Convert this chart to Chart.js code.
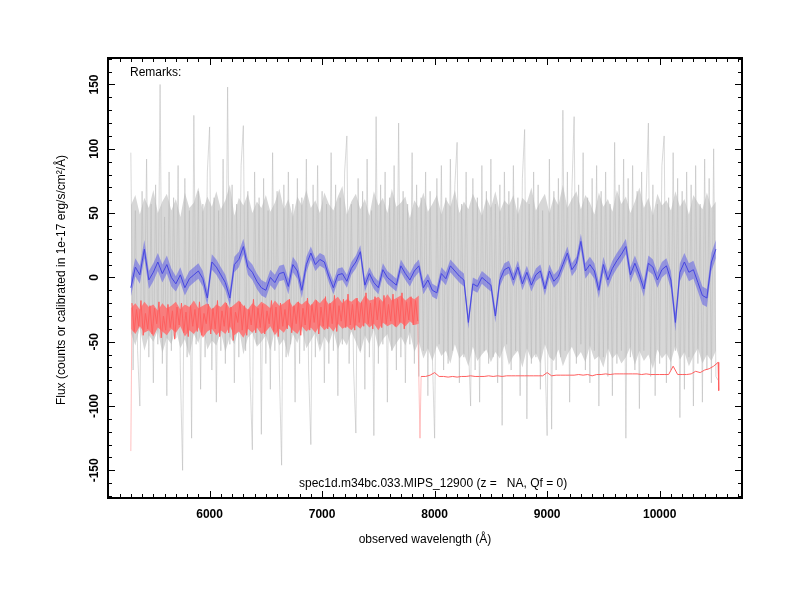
<!DOCTYPE html>
<html lang="en">
<head>
<meta charset="UTF-8">
<title>spec1d.m34bc.033.MIPS_12900</title>
<script src="https://cdn.jsdelivr.net/npm/chart.js"></script>
<style>
  body { margin: 0; background: #fff; }
  #wrap { width: 800px; height: 600px; }
</style>
</head>
<body>
<div id="wrap"><canvas id="specChart" width="800" height="600"></canvas></div>
<script>
// raw spectrum (grey), 5300 A onward, one value every 20 A
const grayStart = 5300, grayStep = 20;
const grayFlux = [
  97, -72, 52, -57, -100, 67, -42, 92, -62, 57,
  -82, 72, -52, 150, -67, 47, -92, 82, -57, 62,
  -47, 87, -72, -150, 77, -62, 52, -125, 126, -52,
  67, -87, 57, -62, 82, 117, -72, 62, -97, 52,
  -57, 92, -67, 148, -52, 72, -82, 57, -62, 87,
  118, -57, 67, -77, -134, 82, -52, 62, -122, 77,
  -67, 52, -87, 97, -57, 67, -72, -146, 72, -62,
  82, -52, 57, -97, 77, -67, 62, -57, 92, -72,
  -130, 72, -62, 87, -52, 67, -82, 57, -67, 97,
  -57, 72, -92, 62, -52, 82, 110, -67, 57, -72,
  -121, 77, -57, 67, -87, 92, -62, 52, -123, 125,
  -67, 72, -52, 82, -97, 62, -57, 87, -72, 120,
  -62, 67, -82, 57, -52, 97, -67, 72, -77, 62,
  -57, 82, -92, 67, -62, -125, 77, -52, 87, -72,
  62, -67, 92, -57, 72, 105, -82, 57, -62, 82,
  -52, -100, 77, -72, 62, -97, 87, -57, 67, -67,
  92, -62, 57, -82, 72, -115, 82, -52, 67, -72,
  87, -57, 62, -92, 77, 115, -110, 57, -67, 82,
  -62, 72, -87, 52, -57, -123, 92, -118, 67, -72,
  77, -62, 130, -57, 82, -97, 67, 125, -67, 72,
  -52, 97, -72, 62, -82, 77, -57, 87, -100, 67,
  -62, 82, -77, 57, -92, 105, -67, 72, -57, 92,
  -125, 77, -62, 87, -72, 67, -102, 82, -57, 62,
  120, -77, 72, -92, 57, -67, 87, 110, -82, 62,
  -72, 97, -57, 77, -109, 67, -87, 82, -62, 72,
  -100, 87, -67, 57, -97, 92, -72, 77, -82, 100,
  -77, -80
];

// dense part of the grey spectrum, one value every 40 A
const coreStart = 5300, coreStep = 40;
const grayTop = [
  56, 64, 49, 62, 54, 68, 50, 59, 65, 52,
  61, 47, 66, 54, 58, 70, 51, 63, 55, 67,
  53, 60, 72, 48, 62, 56, 65, 50, 59, 54,
  64, 51, 58, 69, 53, 61, 47, 63, 56, 68,
  54, 60, 50, 66, 57, 52, 63, 71, 49, 59,
  65, 53, 61, 48, 67, 56, 62, 50, 69, 55,
  58, 63, 46, 60, 54, 66, 51, 57, 64, 49,
  61, 55, 68, 50, 59, 53, 65, 57, 48, 62,
  54, 67, 51, 60, 56, 64, 49, 62, 58, 70,
  52, 59, 65, 50, 63, 56, 72, 54, 61, 67,
  53, 64, 58, 49, 66, 55, 61, 51, 68, 57,
  63, 50, 59, 70, 54, 62, 48, 65, 56, 60,
  52, 67, 55, 61, 49, 64, 58, 53, 66, 54,
  59
];
const grayBottom = [
  -43, -53, -39, -57, -45, -50, -41, -59, -47, -52,
  -40, -55, -48, -61, -44, -51, -38, -56, -49, -53,
  -42, -58, -46, -52, -39, -60, -47, -43, -54, -50,
  -45, -57, -41, -53, -48, -62, -44, -51, -40, -55,
  -49, -43, -58, -46, -52, -41, -56, -47, -53, -42,
  -50, -59, -45, -52, -40, -55, -48, -44, -57, -51,
  -46, -53, -42, -58, -50, -63, -55, -65, -53, -61,
  -57, -67, -52, -63, -59, -69, -54, -65, -60, -56,
  -66, -58, -63, -53, -68, -61, -57, -70, -55, -64,
  -59, -67, -52, -62, -65, -56, -69, -60, -54, -63,
  -58, -66, -53, -64, -61, -70, -55, -63, -59, -67,
  -62, -54, -68, -57, -65, -60, -71, -56, -63, -59,
  -66, -53, -64, -58, -69, -61, -55, -67, -60, -65,
  -57
];

// smoothed spectrum (blue), one value every 40 A
const blueStart = 5300, blueStep = 40;
const blueFlux = [
  -8, 8, 2, 22, -2, 4, 12, 3, 10, 0,
  -5, 2, -8, -1, 2, 5, -1, -16, 12, 8,
  2, -4, -16, 10, 14, 24, 8, 4, -3, -8,
  -10, 0, -4, 3, 4, -7, 10, 5, -10, 10,
  19, 10, 14, 12, 1, -8, 2, 3, -3, 7,
  12, 20, -6, 3, -4, -8, 6, 0, -3, -6,
  9, 3, -2, 5, 9, -8, -2, -10, -12, 3,
  -1, 9, 5, 1, -2, -35, -5, -7, 0, -3,
  -6, -30, -2, 6, 8, -2, 8, -5, 4, -6,
  2, 5, -9, 5, -3, 1, 10, 19, 6, 11,
  28, 5, 10, 5, -10, 10, -2, 7, 13, 18,
  24, 2, 11, 2, -9, 11, 8, -2, 6, 9,
  -2, -35, 4, 12, 4, 6, -4, -14, -16, 12,
  22
];
// half width of the blue band, one value per 400 A
const blueErr = [7, 6, 6, 6, 5, 5, 5, 5, 5, 5, 6, 6, 7, 7];

// red curve: noisy part from 5310 A every 20 A, flat part from 7880 A every 40 A
const redEdgeWave = [5300, 7870, 10525];
const redEdgeFlux = [-135, -125, -88];
const redNoiseStart = 5310, redNoiseStep = 20;
const redNoise = [
  -20, -42, -25, -38, -18, -45, -28, -40, -22,
  -44, -24, -36, -19, -47, -30, -41, -21, -39, -26,
  -48, -23, -37, -20, -43, -27, -46, -22, -38, -25,
  -42, -19, -45, -28, -36, -21, -44, -24, -40, -18,
  -46, -26, -38, -20, -43, -23, -49, -27, -35, -19,
  -41, -22, -45, -25, -37, -17, -43, -24, -39, -21,
  -44, -26, -36, -18, -42, -23, -46, -20, -38, -25,
  -40, -17, -43, -22, -36, -19, -45, -24, -37, -16,
  -41, -21, -35, -18, -44, -23, -38, -15, -40, -20,
  -36, -14, -42, -22, -34, -17, -39, -13, -37, -21,
  -41, -16, -35, -19, -38, -12, -36, -20, -40, -15,
  -33, -18, -39, -14, -36, -21, -34, -13, -38, -17,
  -35, -12, -40, -19, -33, -15, -37, -18, -34
];
// dense part of the red noise, one value every 40 A from 5300 A
const redTop = [
  -24, -20, -25, -19, -23, -21, -26, -20, -24, -22,
  -19, -25, -21, -23, -18, -24, -22, -20, -25, -21,
  -23, -19, -24, -21, -18, -22, -25, -20, -23, -19,
  -21, -24, -18, -22, -20, -17, -23, -19, -21, -18,
  -22, -17, -20, -16, -21, -18, -15, -20, -17, -19,
  -16, -20, -14, -18, -17, -15, -19, -13, -18, -16,
  -14, -18, -15, -17, -14
];
const redBottom = [
  -40, -44, -38, -43, -41, -46, -39, -42, -45, -40,
  -43, -38, -46, -41, -44, -39, -47, -42, -40, -45,
  -41, -44, -38, -45, -42, -47, -40, -43, -39, -44,
  -42, -38, -45, -40, -43, -37, -41, -44, -38, -42,
  -39, -43, -37, -41, -38, -42, -36, -40, -38, -41,
  -37, -40, -35, -39, -36, -41, -35, -38, -36, -39,
  -35, -38, -34, -37, -36
];
const redFlatStart = 7880, redFlatStep = 40;
const redFlat = [
  -77, -77, -76, -74, -77, -77, -77.5, -77, -77.5, -77,
  -77, -76.5, -77, -77, -77, -76.5, -77, -76.5, -77, -76.5,
  -76.5, -76.5, -76.5, -76.5, -76.5, -76.5, -76.5, -76.5, -74, -76.5,
  -76, -76, -76, -76, -76, -75.5, -76, -75.5, -76.5, -75.5,
  -75.5, -75, -75.5, -75, -75, -75, -75, -75, -75, -75.5,
  -75, -75.5, -75.5, -75.5, -75.5, -75.5, -69, -75.5, -75.5, -75.5,
  -75, -73, -74, -72, -71, -69, -66
];

// axes
const xRange = [5097, 10732];
const yRange = [-171.5, 170.6];
const xTickLabels = [6000, 7000, 8000, 9000, 10000];
const yTickLabels = [150, 100, 50, 0, -50, -100, -150];

const FONT = '"Liberation Sans", Arial, Helvetica, sans-serif';

const pts = (vals, start, step) => vals.map((v, i) => ({ x: start + i * step, y: v }));
const grayPts = pts(grayFlux, grayStart, grayStep);
const bluePts = pts(blueFlux, blueStart, blueStep);
const blueHi = bluePts.map((p, i) => ({ x: p.x, y: p.y + blueErr[Math.floor(i / 10)] }));
const blueLo = bluePts.map((p, i) => ({ x: p.x, y: p.y - blueErr[Math.floor(i / 10)] }));
const redPts = [{ x: redEdgeWave[0], y: redEdgeFlux[0] }]
  .concat(pts(redNoise, redNoiseStart, redNoiseStep))
  .concat([{ x: redEdgeWave[1], y: redEdgeFlux[1] }])
  .concat(pts(redFlat, redFlatStart, redFlatStep))
  .concat([{ x: redEdgeWave[2], y: redEdgeFlux[2] }]);

// frame, inward ticks on all four sides, labels and texts
const framePlugin = {
  id: 'frame',
  afterDraw(chart) {
    const { ctx, chartArea: a } = chart;
    const sx = chart.scales.x, sy = chart.scales.y;
    ctx.save();
    ctx.strokeStyle = '#000';
    ctx.lineWidth = 1;
    ctx.beginPath();
    for (let v = 5100; v <= 10700; v += 100) {
      const px = Math.round(sx.getPixelForValue(v)) + 0.5;
      const len = v % 1000 === 0 ? 7 : 4;
      ctx.moveTo(px, a.bottom); ctx.lineTo(px, a.bottom - len);
      ctx.moveTo(px, a.top); ctx.lineTo(px, a.top + len);
    }
    for (let v = -170; v <= 170; v += 10) {
      const py = Math.round(sy.getPixelForValue(v)) + 0.5;
      const len = v % 50 === 0 ? 7 : 4;
      ctx.moveTo(a.left, py); ctx.lineTo(a.left + len, py);
      ctx.moveTo(a.right, py); ctx.lineTo(a.right - len, py);
    }
    ctx.stroke();
    ctx.lineWidth = 2;
    ctx.strokeRect(a.left, a.top, a.right - a.left, a.bottom - a.top);

    ctx.fillStyle = '#000';
    ctx.font = 'bold 12px ' + FONT;
    ctx.textAlign = 'center';
    ctx.textBaseline = 'middle';
    xTickLabels.forEach(v => ctx.fillText(String(v), sx.getPixelForValue(v), 515));
    yTickLabels.forEach(v => {
      ctx.save();
      ctx.translate(95, sy.getPixelForValue(v));
      ctx.rotate(-Math.PI / 2);
      ctx.fillText(String(v), 0, 0);
      ctx.restore();
    });

    ctx.font = '12px ' + FONT;
    ctx.fillText('observed wavelength (Å)', (a.left + a.right) / 2, 540);
    ctx.save();
    ctx.translate(62, 280);
    ctx.rotate(-Math.PI / 2);
    ctx.fillText('Flux (counts or calibrated in 1e-17 erg/s/cm²/Å)', 0, 0);
    ctx.restore();

    ctx.textAlign = 'left';
    ctx.fillText('Remarks:', 130, 73);
    ctx.fillText('spec1d.m34bc.033.MIPS_12900 (z =   NA, Qf = 0)', 299, 484);
    ctx.restore();
  }
};

const band = (data, order, color) => ({
  data, order, pointRadius: 0, borderWidth: 0,
  borderColor: 'rgba(0,0,0,0)',
  backgroundColor: color || 'rgba(0,0,0,0)',
  fill: color ? '+1' : false
});

// the two deep drops of the red curve are drawn pale
const paleDrop = c => (c.p0.parsed.y < -100 || c.p1.parsed.y < -100) ? 'rgba(255, 150, 150, 0.6)' : undefined;

new Chart(document.getElementById('specChart'), {
  type: 'line',
  data: {
    datasets: [
      { data: bluePts, borderColor: 'rgb(70, 70, 225)', borderWidth: 1, pointRadius: 0, fill: false, order: 1 },
      band(blueHi, 2, 'rgba(95, 95, 230, 0.55)'),
      band(blueLo, 2),
      { data: redPts, borderColor: 'rgb(255, 95, 95)', borderWidth: 1, pointRadius: 0, fill: false, order: 3,
        segment: { borderColor: paleDrop } },
      band(pts(redTop, coreStart, coreStep), 4, 'rgba(255, 110, 110, 0.85)'),
      band(pts(redBottom, coreStart, coreStep), 4),
      { data: grayPts, borderColor: 'rgba(185, 185, 185, 0.55)', borderWidth: 1, pointRadius: 0, fill: false, order: 5 },
      band(pts(grayTop, coreStart, coreStep), 6, 'rgb(215, 215, 215)'),
      band(pts(grayBottom, coreStart, coreStep), 6)
    ]
  },
  options: {
    responsive: false,
    animation: false,
    events: [],
    devicePixelRatio: 1,
    layout: { padding: { left: 108, right: 58, top: 58, bottom: 102 } },
    elements: { line: { tension: 0 } },
    scales: {
      x: { type: 'linear', display: false, min: xRange[0], max: xRange[1] },
      y: { type: 'linear', display: false, min: yRange[0], max: yRange[1] }
    },
    plugins: {
      legend: { display: false },
      tooltip: { enabled: false }
    }
  },
  plugins: [framePlugin]
});
</script>
</body>
</html>
